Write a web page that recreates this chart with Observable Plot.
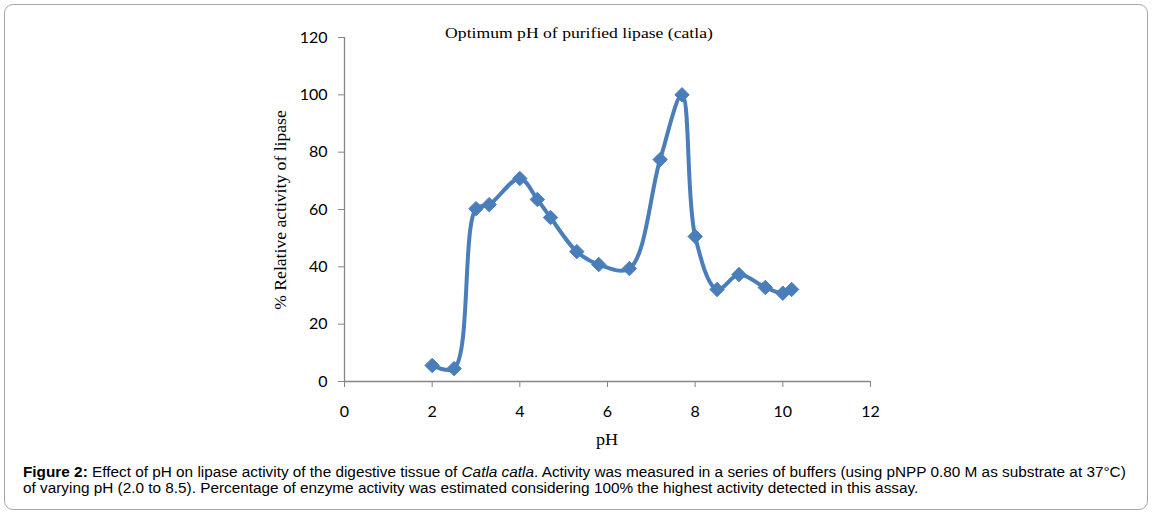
<!DOCTYPE html>
<html>
<head>
<meta charset="utf-8">
<script src="https://cdn.jsdelivr.net/npm/d3@7"></script>
<script src="https://cdn.jsdelivr.net/npm/@observablehq/plot@0.6"></script>
<style>
  html, body { margin: 0; padding: 0; background: #fff; }
  #wrap { position: relative; width: 1154px; height: 515px; overflow: hidden; }
  #box { position: absolute; left: 4px; top: 4px; width: 1142px; height: 504px;
         border: 1px solid #a8a8a8; border-radius: 9px; }
  #chart { position: absolute; left: 0; top: 0; }
  #title { position: absolute; left: 0; width: 1158px; top: 25px; text-align: center;
           font-family: "Liberation Serif", serif; font-size: 15px; line-height: 17px; color: #000;
           transform: scaleX(1.175); transform-origin: 579px 0; }
  #ylab { position: absolute; left: 281px; top: 210px; transform: translate(-50%, -50%) rotate(-90deg) scaleX(1.1);
          white-space: nowrap; font-family: "Liberation Serif", serif; font-size: 16px; color: #000; }
  #xlab { position: absolute; left: 607px; top: 440px; transform: translate(-50%, -50%) scaleX(1.1);
          font-family: "Liberation Serif", serif; font-size: 16.5px; color: #000; }
  #caption { position: absolute; left: 23px; top: 464px; width: 1120px; white-space: nowrap;
             font-family: "Liberation Sans", Arial, sans-serif; font-size: 14px; line-height: 16px; color: #000;
             transform: scaleX(1.095); transform-origin: 0 0; }
</style>
</head>
<body>
<div id="wrap">
  <div id="box"></div>
  <div id="chart"></div>
  <div id="title">Optimum pH of purified lipase (catla)</div>
  <div id="ylab">% Relative activity of lipase</div>
  <div id="xlab">pH</div>
  <div id="caption"><b>Figure 2:</b> Effect of pH on lipase activity of the digestive tissue of <i>Catla catla</i>. Activity was measured in a series of buffers (using pNPP 0.80 M as substrate at 37°C)<br>of varying pH (2.0 to 8.5). Percentage of enzyme activity was estimated considering 100% the highest activity detected in this assay.</div>
</div>
<script>
const pH = [2.0, 2.5, 3.0, 3.3, 4.0, 4.4, 4.7, 5.3, 5.8, 6.5, 7.2, 7.7, 8.0, 8.5, 9.0, 9.6, 10.0, 10.2];
const activity = [5.6, 4.5, 60.3, 61.7, 70.8, 63.5, 57.2, 45.3, 40.8, 39.4, 77.4, 100, 50.6, 32.1, 37.3, 32.8, 30.8, 32.1];
const xTicks = [0, 2, 4, 6, 8, 10, 12];
const yTicks = [0, 20, 40, 60, 80, 100, 120];

const data = pH.map((p, i) => ({pH: p, activity: activity[i]}));
const blue = "#4a7ebb";
const axisGray = "#868686";

const chart = Plot.plot({
  width: 1154,
  height: 455,
  marginLeft: 344,
  marginRight: 284,
  marginTop: 37,
  marginBottom: 74,
  style: {fontFamily: "Lato, sans-serif", fontSize: "16px", color: "#000", background: "transparent"},
  x: {domain: [0, 12], ticks: xTicks},
  y: {domain: [0, 120], ticks: yTicks},
  marks: [
    Plot.axisX({ticks: xTicks, tickSize: 6, tickPadding: 18, stroke: axisGray, strokeOpacity: 1, label: null, fontSize: 16}),
    Plot.axisY({ticks: yTicks, tickSize: 6, tickPadding: 11, stroke: axisGray, strokeOpacity: 1, label: null, fontSize: 16}),
    Plot.ruleY([0], {stroke: axisGray, strokeWidth: 1.3}),
    Plot.ruleX([0], {stroke: axisGray, strokeWidth: 1.3}),
    Plot.line(data, {x: "pH", y: "activity", curve: "catmull-rom", stroke: blue, strokeWidth: 4}),
    Plot.dot(data, {x: "pH", y: "activity", symbol: "diamond2", r: 6.5, fill: blue, stroke: blue, strokeWidth: 1})
  ]
});
document.getElementById("chart").appendChild(chart);
</script>
</body>
</html>
